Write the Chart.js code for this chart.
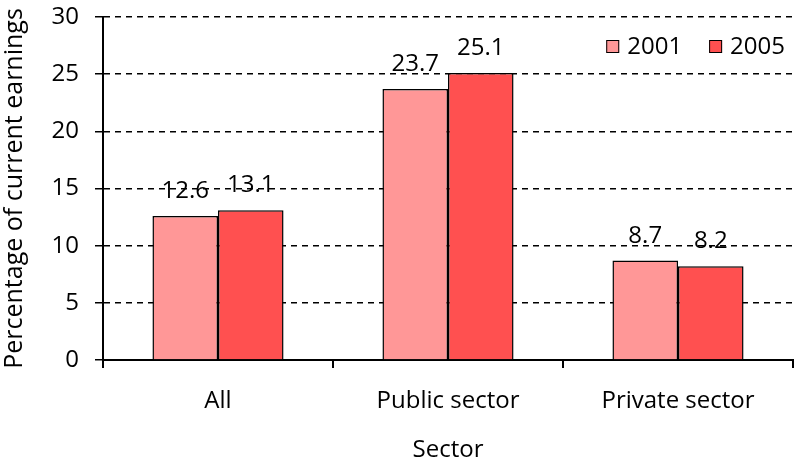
<!DOCTYPE html>
<html>
<head>
<meta charset="utf-8"/>
<style>
  body { margin: 0; padding: 0; background: #fff; }
  #wrap { width: 795px; height: 462px; }
</style>
<script src="https://cdn.jsdelivr.net/npm/chart.js@4"></script>
</head>
<body>
<div id="wrap"><canvas id="chart"></canvas></div>
<script>
var sectors = ['All', 'Public sector', 'Private sector'];
var years = ['2001', '2005'];
var values2001 = [12.6, 23.7, 8.7];
var values2005 = [13.1, 25.1, 8.2];
var yTicks = [0, 5, 10, 15, 20, 25, 30];

var FONT = '"Open Sans", sans-serif';

// value labels above each bar
var barLabels = {
  id: 'barLabels',
  afterDatasetsDraw: function(chart) {
    var ctx = chart.ctx;
    ctx.save();
    ctx.font = '24px ' + FONT;
    ctx.fillStyle = '#000';
    ctx.textAlign = 'center';
    ctx.textBaseline = 'alphabetic';
    chart.data.datasets.forEach(function(ds, i) {
      chart.getDatasetMeta(i).data.forEach(function(bar, j) {
        ctx.fillText(ds.data[j].toFixed(1), bar.x, bar.y - 18);
      });
    });
    ctx.restore();
  }
};

// legend inside the plot, top right
var insideLegend = {
  id: 'insideLegend',
  afterDraw: function(chart) {
    var ctx = chart.ctx, area = chart.chartArea;
    ctx.save();
    ctx.font = '24px ' + FONT;
    ctx.textBaseline = 'middle';
    var y = area.top + 30;
    var x = area.right - 8;
    var items = chart.data.datasets.slice().reverse();
    items.forEach(function(ds) {
      var w = ctx.measureText(ds.label).width;
      x -= w;
      ctx.fillStyle = '#000';
      ctx.fillText(ds.label, x, y);
      x -= 21;
      ctx.fillStyle = ds.backgroundColor;
      ctx.fillRect(x, y - 7, 13, 13);
      ctx.lineWidth = 1;
      ctx.strokeStyle = '#000';
      ctx.strokeRect(x + 0.5, y - 6.5, 12, 12);
      x -= 27;
    });
    ctx.restore();
  }
};

new Chart(document.getElementById('chart'), {
  type: 'bar',
  data: {
    labels: sectors,
    datasets: [{
      label: years[0],
      data: values2001,
      backgroundColor: '#ff9797',
      borderColor: '#000',
      borderWidth: 1.5
    }, {
      label: years[1],
      data: values2005,
      backgroundColor: '#ff5050',
      borderColor: '#000',
      borderWidth: 1.5
    }]
  },
  options: {
    responsive: true,
    maintainAspectRatio: false,
    animation: false,
    layout: { padding: { top: 17, right: 2, left: 0, bottom: -3 } },
    datasets: { bar: { categoryPercentage: 0.57, barPercentage: 1 } },
    plugins: {
      legend: { display: false },
      tooltip: { enabled: false }
    },
    scales: {
      x: {
        afterFit: function(scale) { scale.height = 105; },
        grid: { display: true, drawOnChartArea: false, offset: true, tickLength: 8, color: '#000', lineWidth: 2 },
        border: { color: '#000', width: 2 },
        ticks: { font: { family: FONT, size: 24 }, color: '#000', padding: 19, maxRotation: 0 },
        title: { display: true, text: 'Sector', font: { family: FONT, size: 24 }, color: '#000', padding: { top: 0, bottom: 0 } }
      },
      y: {
        min: 0,
        max: 30,
        afterBuildTicks: function(scale) {
          scale.ticks = yTicks.map(function(v) { return { value: v }; });
        },
        afterFit: function(scale) {
          scale.width = 103;
          scale.paddingTop = 14;
        },
        grid: { color: '#000', lineWidth: 1.5, tickLength: 8, tickColor: '#000' },
        border: { color: '#000', width: 2, dash: [6, 5] },
        ticks: { font: { family: FONT, size: 24 }, color: '#000', padding: 16 },
        title: { display: true, text: 'Percentage of current earnings', font: { family: FONT, size: 25 }, color: '#000', padding: { top: 0, bottom: 0 } }
      }
    }
  },
  plugins: [barLabels, insideLegend]
});
</script>
</body>
</html>
